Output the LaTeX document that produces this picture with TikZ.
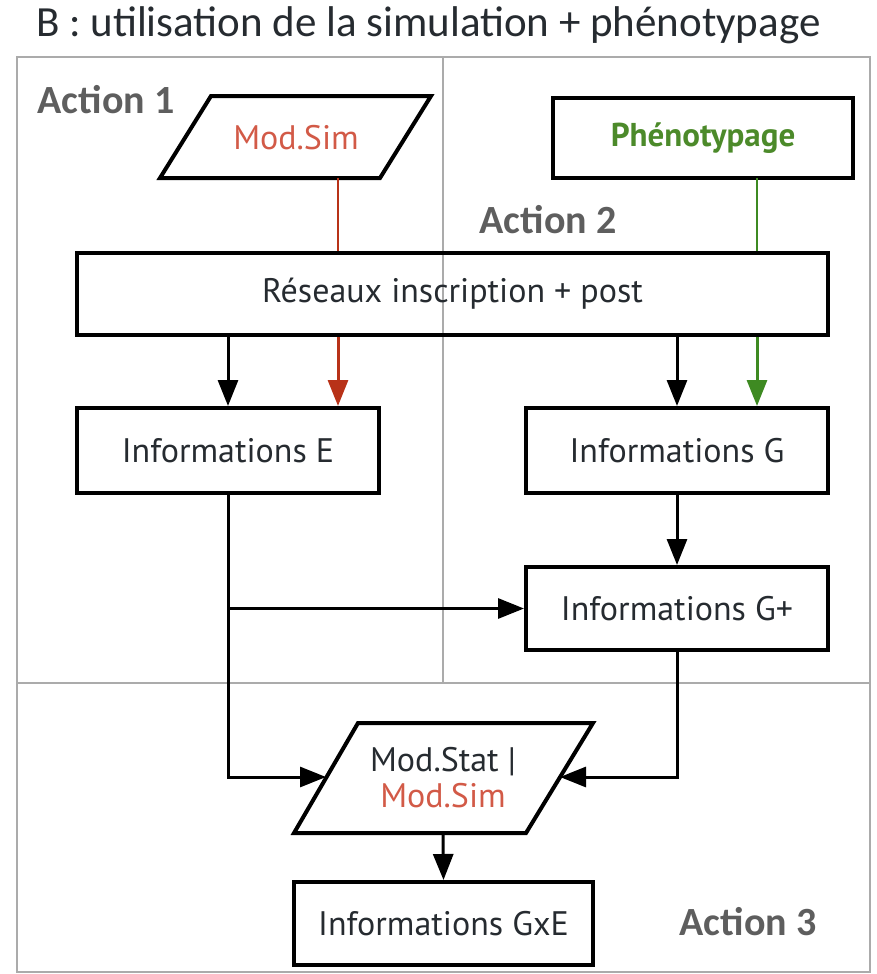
\documentclass[tikz,border=0pt]{standalone}
\usepackage{fontspec}
\setmainfont{PT Sans}
\newfontfamily\titlefont{Carlito}
\usetikzlibrary{arrows.meta,calc}
\definecolor{txt}{HTML}{262B30}
\definecolor{simred}{HTML}{D25A47}
\definecolor{arrred}{HTML}{B83218}
\definecolor{phgreen}{HTML}{4C8A2A}
\definecolor{arrgreen}{HTML}{3E8A22}
\definecolor{actgray}{HTML}{5E5E5E}
\definecolor{framegray}{HTML}{ABABAB}
\begin{document}
\begin{tikzpicture}[x=1pt,y=-1pt,
  box/.style={draw=black,line width=4pt,rectangle,inner sep=0pt,font=\fontsize{34}{40}\selectfont,text=txt},
  pshape/.style={draw=black,line width=4pt,line join=miter},
  lbl/.style={inner sep=0pt,font=\fontsize{34}{40}\selectfont,text=txt},
  act/.style={inner sep=0pt,font=\titlefont\fontsize{40}{46}\selectfont\bfseries,text=actgray},
  arr/.style={line width=3pt,-{Triangle[length=26pt,width=20pt]}},
  thinline/.style={line width=2pt},
  frame/.style={draw=framegray,line width=1.5pt}]
\useasboundingbox (0,0) rectangle (877,974);
% frame
\draw[frame] (17,57) rectangle (870,972);
\draw[frame] (443,57) -- (443,683);
\draw[frame] (17,683) -- (870,683);
% title
\node[anchor=base west,inner sep=0pt,font=\titlefont\fontsize{43}{50}\selectfont,text=txt] (title) at (36,37) {B : utilisation de la simulation + phénotypage};
% action labels
\node[act] (a1) at (106,100) {Action 1};
\node[act] (a2) at (548,220) {Action 2};
\node[act] (a3) at (748,922) {Action 3};
% Mod.Sim parallelogram
\draw[pshape] (211,96) -- (431,96) -- (380,178) -- (160,178) -- cycle;
\node[lbl,text=simred] (modsim) at (296,138) {Mod.Sim};
\coordinate (msb) at (338,178);
% Phenotypage
\node[box,minimum width=300pt,minimum height=80pt,font=\fontsize{33}{40}\selectfont\bfseries,text=phgreen] (phen) at (703,138) {Phénotypage};
\coordinate (pgb) at (757,178);
% Reseaux
\node[box,minimum width=751pt,minimum height=82pt] (res) at (452.5,294) {Réseaux inscription + post};
% Informations E / G
\node[box,minimum width=302pt,minimum height=85pt] (infoE) at (228,450.5) {Informations E};
\node[box,minimum width=302pt,minimum height=85pt] (infoG) at (677,450.5) {Informations G};
\node[box,minimum width=302pt,minimum height=83pt] (gplus) at (677,608.5) {Informations G+};
% Mod.Stat parallelogram
\draw[pshape] (358,723) -- (593,723) -- (526,833) -- (294,833) -- cycle;
\node[lbl,align=center] (modstat) at (443,778) {Mod.Stat |\\[-4pt]\textcolor{simred}{Mod.Sim}};
\coordinate (mstL) at (326,777);
\coordinate (mstR) at (560,777);
\coordinate (mstB) at (443,833);
% GxE
\node[box,minimum width=299pt,minimum height=83pt] (gxe) at (443.5,923.5) {Informations GxE};
% connectors
\draw[thinline,draw=arrred] (msb) -- (msb |- res.north);
\draw[thinline,draw=arrgreen] (pgb) -- (pgb |- res.north);
\draw[arr,draw=arrred,fill=arrred] (msb |- res.south) -- (msb |- infoE.north);
\draw[arr,draw=arrgreen,fill=arrgreen] (pgb |- res.south) -- (pgb |- infoG.north);
\draw[arr] (infoE.north |- res.south) -- (infoE.north);
\draw[arr] (infoG.north |- res.south) -- (infoG.north);
\draw[arr] (infoG.south) -- (gplus.north);
\draw[arr] (infoE.south) -- (infoE.south |- mstL) -- (mstL);
\draw[arr] (infoE.south |- gplus.west) -- (gplus.west);
\draw[arr] (gplus.south) -- (gplus.south |- mstR) -- (mstR);
\draw[arr] (mstB) -- (gxe.north);
\end{tikzpicture}
\end{document}
